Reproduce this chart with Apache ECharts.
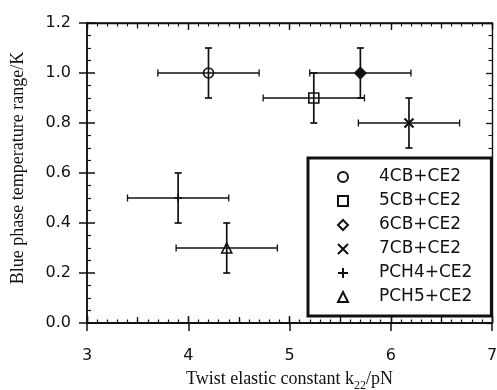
<!DOCTYPE html>
<html><head><meta charset="utf-8">
<script src="https://cdn.jsdelivr.net/npm/echarts@6/dist/echarts.min.js"></script>
<style>html,body{margin:0;padding:0;background:#fff}#c{width:497px;height:390px}</style>
</head><body><div id="c"></div><script>
// ---- data ----
const seriesNames = ['4CB+CE2', '5CB+CE2', '6CB+CE2', '7CB+CE2', 'PCH4+CE2', 'PCH5+CE2'];
const k22Values = [4.2, 5.24, 5.7, 6.18, 3.9, 4.38];
const rangeValues = [1.0, 0.9, 1.0, 0.8, 0.5, 0.3];
const k22Errors = [0.5, 0.5, 0.5, 0.5, 0.5, 0.5];
const rangeErrors = [0.1, 0.1, 0.1, 0.1, 0.1, 0.1];
const xTickLabels = ['3', '4', '5', '6', '7'];
const yTickLabels = ['0.0', '0.2', '0.4', '0.6', '0.8', '1.0', '1.2'];

const symbols = ['circle', 'rect', 'diamond', 'path://M0,0L10,10M10,0L0,10', 'path://M5,0L5,10M0,5L10,5', 'triangle'];
const symbolSizes = [10, 10, 11, 9, 8, 10];
const filled = [false, false, true, false, false, false];

const X_MIN = 3, X_MAX = 7, Y_MIN = 0, Y_MAX = 1.2;
const BLACK = '#111';
const sansFont = 'DejaVu Sans';
const serifFont = 'Liberation Serif';

const xFmt = v => xTickLabels[Math.round(v - X_MIN)] ?? '';
const yFmt = v => yTickLabels[Math.round(v / 0.2)] ?? '';

function xAx(extra) {
  return Object.assign({
    type: 'value', min: X_MIN, max: X_MAX, interval: 1, gridIndex: 0,
    splitLine: { show: false },
    axisLine: { show: true, onZero: false, lineStyle: { color: BLACK, width: 1.6 } },
    axisLabel: { show: false },
    axisTick: { show: false }
  }, extra);
}
function yAx(extra) {
  return Object.assign({
    type: 'value', min: Y_MIN, max: Y_MAX, interval: 0.2, gridIndex: 0,
    splitLine: { show: false },
    axisLine: { show: true, onZero: false, lineStyle: { color: BLACK, width: 1.6 } },
    axisLabel: { show: false },
    axisTick: { show: false }
  }, extra);
}

const chart = echarts.init(document.getElementById('c'), null, { renderer: 'canvas' });

const scatterSeries = seriesNames.map((name, i) => ({
  name, type: 'scatter', xAxisIndex: 0, yAxisIndex: 0,
  symbol: symbols[i], symbolSize: symbolSizes[i], symbolKeepAspect: true,
  data: [[k22Values[i], rangeValues[i]]],
  itemStyle: {
    color: filled[i] ? BLACK : 'rgba(0,0,0,0)',
    borderColor: BLACK,
    borderWidth: (i === 3) ? 2.2 : 1.6,
    opacity: 1
  },
  z: 5,
  emphasis: { disabled: true }
}));

const errData = seriesNames.map((n, i) => [k22Values[i], rangeValues[i], k22Errors[i], rangeErrors[i]]);

const errorSeries = {
  name: 'errorbars', type: 'custom', xAxisIndex: 0, yAxisIndex: 0,
  data: errData, z: 4,
  renderItem(params, api) {
    const x = api.value(0), y = api.value(1), ex = api.value(2), ey = api.value(3);
    const L = api.coord([x - ex, y]), R = api.coord([x + ex, y]);
    const T = api.coord([x, y + ey]), B = api.coord([x, y - ey]);
    const cap = 3.5;
    const hs = { stroke: BLACK, lineWidth: 1.3 };
    const vs = { stroke: BLACK, lineWidth: 1.7 };
    return { type: 'group', children: [
      { type: 'line', shape: { x1: L[0], y1: L[1], x2: R[0], y2: R[1] }, style: hs },
      { type: 'line', shape: { x1: L[0], y1: L[1] - cap, x2: L[0], y2: L[1] + cap }, style: hs },
      { type: 'line', shape: { x1: R[0], y1: R[1] - cap, x2: R[0], y2: R[1] + cap }, style: hs },
      { type: 'line', shape: { x1: T[0], y1: T[1], x2: B[0], y2: B[1] }, style: vs },
      { type: 'line', shape: { x1: T[0] - cap, y1: T[1], x2: T[0] + cap, y2: T[1] }, style: vs },
      { type: 'line', shape: { x1: B[0] - cap, y1: B[1], x2: B[0] + cap, y2: B[1] }, style: vs }
    ] };
  }
};

const option = {
  backgroundColor: '#fff',
  animation: false,
  grid: { left: 87, right: 5, top: 23, bottom: 67, containLabel: false, outerBoundsMode: 'none' },
  xAxis: [
    xAx({ position: 'bottom',
      axisLabel: { show: true, formatter: xFmt, color: BLACK, fontFamily: sansFont, fontSize: 16, margin: 25 },
      axisTick: { show: true, inside: false, length: 8, lineStyle: { color: BLACK, width: 1.5 } },
      name: 'Twist elastic constant k{sub|22}/pN', nameLocation: 'middle', nameGap: 45,
      nameTextStyle: { color: BLACK, fontFamily: serifFont, fontSize: 18, lineHeight: 20,
        rich: { sub: { fontFamily: serifFont, fontSize: 12, lineHeight: 12, verticalAlign: 'bottom', padding: [0, 0, -3, 0], color: BLACK } } }
    }),
    xAx({ position: 'bottom',
      axisTick: { show: true, inside: true, length: 7, lineStyle: { color: BLACK, width: 1.4 } },
      minorTick: { show: true, splitNumber: 10, length: 3.5, lineStyle: { color: BLACK, width: 1.2 } } }),
    xAx({ position: 'bottom', interval: 0.5,
      axisTick: { show: true, inside: true, length: 6, lineStyle: { color: BLACK, width: 1.3 } } }),
    xAx({ position: 'top', axisLine: { show: true, onZero: false, lineStyle: { color: BLACK, width: 1.4 } },
      axisTick: { show: true, inside: true, length: 7, lineStyle: { color: BLACK, width: 1.3 } },
      minorTick: { show: true, splitNumber: 10, length: 3.5, lineStyle: { color: BLACK, width: 1.1 } } }),
    xAx({ position: 'top', interval: 0.5,
      axisTick: { show: true, inside: true, length: 5.5, lineStyle: { color: BLACK, width: 1.2 } } })
  ],
  yAxis: [
    yAx({ position: 'left',
      axisLine: { show: true, onZero: false, lineStyle: { color: BLACK, width: 1.9 } },
      axisLabel: { show: true, formatter: yFmt, color: BLACK, fontFamily: sansFont, fontSize: 16, margin: 16 },
      axisTick: { show: true, inside: false, length: 8, lineStyle: { color: BLACK, width: 1.5 } },
      name: 'Blue phase temperature range/K', nameLocation: 'middle', nameGap: 60,
      nameTextStyle: { color: BLACK, fontFamily: serifFont, fontSize: 18, padding: [0, 0, 0, 10] }
    }),
    yAx({ position: 'left', axisLine: { show: false },
      axisTick: { show: true, inside: true, length: 8, lineStyle: { color: BLACK, width: 1.5 } },
      minorTick: { show: true, splitNumber: 4, length: 4, lineStyle: { color: BLACK, width: 1.2 } } }),
    yAx({ position: 'right', axisLine: { show: true, onZero: false, lineStyle: { color: BLACK, width: 1.4 } },
      axisTick: { show: true, inside: true, length: 6, lineStyle: { color: BLACK, width: 1.3 } },
      minorTick: { show: true, splitNumber: 4, length: 3.5, lineStyle: { color: BLACK, width: 1.1 } } })
  ],
  legend: {
    orient: 'vertical', left: 308, top: 158,
    data: seriesNames.map((n, i) => filled[i] ? { name: n, itemStyle: { color: '#fff' } } : n),
    itemWidth: 10, itemHeight: 10, itemGap: 6, symbolKeepAspect: true,
    padding: [10, 19, 10, 29],
    borderColor: BLACK, borderWidth: 3, borderRadius: 0, backgroundColor: '#fff',
    textStyle: { fontFamily: sansFont, fontSize: 17, color: BLACK, lineHeight: 18, padding: [0, 0, 0, 26] },
    selectedMode: false
  },
  series: [errorSeries, ...scatterSeries]
};
chart.setOption(option);
</script></body></html>
